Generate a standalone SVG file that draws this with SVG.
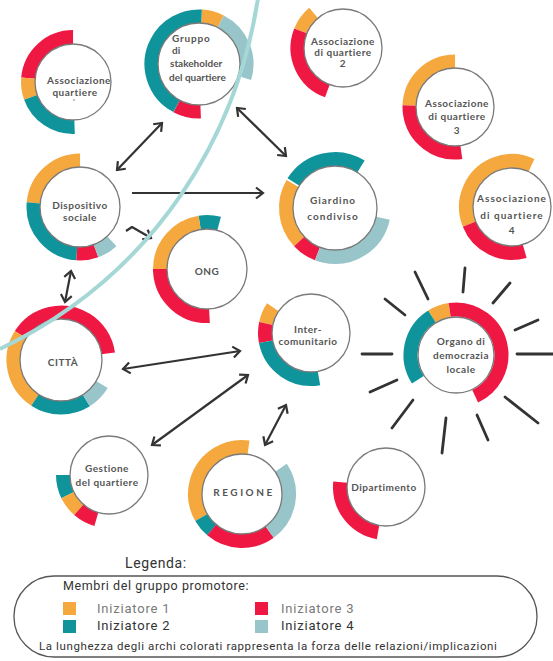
<svg xmlns="http://www.w3.org/2000/svg" width="553" height="661" viewBox="0 0 553 661">
  <style>
    .arc { fill: none; stroke-width: 14; }
    .o { stroke: #F5A83E; }
    .t { stroke: #0F949C; }
    .r { stroke: #EF1843; }
    .b { stroke: #97C5C9; }
    .hub { fill: #ffffff; stroke: #7a7a7a; stroke-width: 1.3; }
    .lbl { font-family: Lato, "Noto Sans", sans-serif; font-weight: bold; font-size: 10px; fill: #555555; text-anchor: middle; letter-spacing: 0.5px; }
    .lbl-l { text-anchor: start; letter-spacing: 0px; }
    .ray { stroke: #333333; stroke-width: 2.8; stroke-linecap: round; }
    .link { fill: none; stroke: #333333; stroke-width: 2.2; }
    .leg { font-family: Roboto, "Liberation Sans", sans-serif; fill: #333333; }
  </style>
  <defs>
    <marker id="head" viewBox="-10 -7 12 14" markerWidth="12" markerHeight="14" refX="0" refY="0" markerUnits="userSpaceOnUse" orient="auto-start-reverse">
      <path d="M-7,-5.5 L0,0 L-7,5.5" fill="none" stroke="#333333" stroke-width="2.2"/>
    </marker>
  </defs>

  <rect width="553" height="661" fill="#ffffff"/>

  <!-- nodes: coloured arcs (pathLength 360 = degrees), then the white hub with its label -->
  <g id="associazione-quartiere">
    <circle class="arc r" cx="73" cy="82" r="45" pathLength="360" stroke-dasharray="85 360" transform="rotate(185 73 82)"/>
    <circle class="arc o" cx="73" cy="82" r="45" pathLength="360" stroke-dasharray="25 360" transform="rotate(160 73 82)"/>
    <circle class="arc t" cx="73" cy="82" r="45" pathLength="360" stroke-dasharray="72 360" transform="rotate(88 73 82)"/>
    <circle class="hub" cx="73" cy="82" r="38"/>
    <text class="lbl" x="79" y="84">Associazione</text>
    <text class="lbl" x="75" y="96">quartiere</text>
    <circle cx="74" cy="100" r="0.8" fill="#777777"/>
  </g>

  <g id="gruppo-stakeholder">
    <circle class="arc o" cx="199" cy="64" r="47.5" pathLength="360" stroke-dasharray="24 360" transform="rotate(-87 199 64)"/>
    <circle class="arc b" cx="199" cy="64" r="47.5" pathLength="360" stroke-dasharray="80 360" transform="rotate(-63 199 64)"/>
    <circle class="arc r" cx="199" cy="64" r="47.5" pathLength="360" stroke-dasharray="30 360" transform="rotate(88 199 64)"/>
    <circle class="arc t" cx="199" cy="64" r="47.5" pathLength="360" stroke-dasharray="155 360" transform="rotate(118 199 64)"/>
    <circle class="hub" cx="199" cy="64" r="41"/>
    <text class="lbl lbl-l" x="172" y="42" style="letter-spacing:0.8px">Gruppo</text>
    <text class="lbl lbl-l" x="172" y="54">di</text>
    <text class="lbl lbl-l" x="170" y="67">stakeholder</text>
    <text class="lbl lbl-l" x="169" y="81">del quartiere</text>
  </g>

  <g id="dispositivo-sociale">
    <circle class="arc o" cx="80" cy="207" r="46.5" pathLength="360" stroke-dasharray="85 360" transform="rotate(185 80 207)"/>
    <circle class="arc t" cx="80" cy="207" r="46.5" pathLength="360" stroke-dasharray="91 360" transform="rotate(94 80 207)"/>
    <circle class="arc r" cx="80" cy="207" r="46.5" pathLength="360" stroke-dasharray="24 360" transform="rotate(70 80 207)"/>
    <circle class="arc b" cx="80" cy="207" r="46.5" pathLength="360" stroke-dasharray="23 360" transform="rotate(47 80 207)"/>
    <circle class="hub" cx="80" cy="207" r="40"/>
    <text class="lbl" x="80" y="209">Dispositivo</text>
    <text class="lbl" x="80" y="221">sociale</text>
  </g>

  <g id="ong">
    <circle class="arc t" cx="207" cy="269" r="47" pathLength="360" stroke-dasharray="24 360" transform="rotate(261 207 269)"/>
    <circle class="arc o" cx="207" cy="269" r="47" pathLength="360" stroke-dasharray="81 360" transform="rotate(180 207 269)"/>
    <circle class="arc r" cx="207" cy="269" r="47" pathLength="360" stroke-dasharray="93 360" transform="rotate(87 207 269)"/>
    <circle class="hub" cx="207" cy="269" r="40"/>
    <text class="lbl" x="207" y="275">ONG</text>
  </g>

  <g id="citta">
    <circle class="arc r" cx="61" cy="360" r="47.5" pathLength="360" stroke-dasharray="140 360" transform="rotate(212 61 360)"/>
    <circle class="arc o" cx="61" cy="360" r="47.5" pathLength="360" stroke-dasharray="89 360" transform="rotate(123 61 360)"/>
    <circle class="arc t" cx="61" cy="360" r="47.5" pathLength="360" stroke-dasharray="65 360" transform="rotate(58 61 360)"/>
    <circle class="arc b" cx="61" cy="360" r="47.5" pathLength="360" stroke-dasharray="27 360" transform="rotate(31 61 360)"/>
    <circle class="hub" cx="61" cy="360" r="41"/>
    <text class="lbl" x="63" y="366">CITTÀ</text>
  </g>

  <g id="associazione-2">
    <circle class="arc o" cx="343" cy="48" r="45.5" pathLength="360" stroke-dasharray="28 360" transform="rotate(202 343 48)"/>
    <circle class="arc r" cx="343" cy="48" r="45.5" pathLength="360" stroke-dasharray="92 360" transform="rotate(110 343 48)"/>
    <circle class="hub" cx="343" cy="48" r="39"/>
    <text class="lbl" x="343" y="45">Associazione</text>
    <text class="lbl" x="343" y="56">di quartiere</text>
    <text class="lbl" x="343" y="67">2</text>
  </g>

  <g id="associazione-3">
    <circle class="arc o" cx="455" cy="107" r="45.5" pathLength="360" stroke-dasharray="88 360" transform="rotate(182 455 107)"/>
    <circle class="arc r" cx="455" cy="107" r="45.5" pathLength="360" stroke-dasharray="100 360" transform="rotate(82 455 107)"/>
    <circle class="hub" cx="455" cy="107" r="39"/>
    <text class="lbl" x="457" y="107">Associazione</text>
    <text class="lbl" x="457" y="120">di quartiere</text>
    <text class="lbl" x="457" y="134">3</text>
  </g>

  <g id="associazione-4">
    <circle class="arc o" cx="512" cy="207" r="46" pathLength="360" stroke-dasharray="137 360" transform="rotate(158 512 207)"/>
    <circle class="arc r" cx="512" cy="207" r="46" pathLength="360" stroke-dasharray="84 360" transform="rotate(74 512 207)"/>
    <circle class="hub" cx="512" cy="207" r="39"/>
    <text class="lbl" x="512" y="202" style="letter-spacing:1px">Associazione</text>
    <text class="lbl" x="512" y="219" style="letter-spacing:1px">di quartiere</text>
    <text class="lbl" x="512" y="234">4</text>
  </g>

  <g id="giardino-condiviso">
    <circle class="arc t" cx="335" cy="208" r="49" pathLength="360" stroke-dasharray="90 360" transform="rotate(212 335 208)"/>
    <circle class="arc o" cx="335" cy="208" r="49" pathLength="360" stroke-dasharray="73 360" transform="rotate(137 335 208)"/>
    <circle class="arc r" cx="335" cy="208" r="49" pathLength="360" stroke-dasharray="26 360" transform="rotate(111 335 208)"/>
    <circle class="arc b" cx="335" cy="208" r="49" pathLength="360" stroke-dasharray="99 360" transform="rotate(12 335 208)"/>
    <circle class="hub" cx="335" cy="208" r="42"/>
    <text class="lbl" x="333" y="204" style="letter-spacing:1px">Giardino</text>
    <text class="lbl" x="333" y="220" style="letter-spacing:1px">condiviso</text>
  </g>

  <g id="inter-comunitario">
    <circle class="arc o" cx="311" cy="333" r="46" pathLength="360" stroke-dasharray="22 360" transform="rotate(192 311 333)"/>
    <circle class="arc r" cx="311" cy="333" r="46" pathLength="360" stroke-dasharray="23 360" transform="rotate(169 311 333)"/>
    <circle class="arc t" cx="311" cy="333" r="46" pathLength="360" stroke-dasharray="89 360" transform="rotate(80 311 333)"/>
    <circle class="hub" cx="311" cy="333" r="39"/>
    <text class="lbl" x="308" y="333">Inter-</text>
    <text class="lbl" x="308" y="345">comunitario</text>
  </g>

  <g id="organo-democrazia">
    <g class="rays">
      <line class="ray" x1="415" y1="272" x2="428" y2="299"/>
      <line class="ray" x1="465" y1="268" x2="463" y2="292"/>
      <line class="ray" x1="510" y1="283" x2="493" y2="303"/>
      <line class="ray" x1="538" y1="320" x2="515" y2="330"/>
      <line class="ray" x1="517" y1="354" x2="553" y2="354"/>
      <line class="ray" x1="505" y1="397" x2="538" y2="423"/>
      <line class="ray" x1="477" y1="415" x2="488" y2="440"/>
      <line class="ray" x1="446" y1="418" x2="442" y2="453"/>
      <line class="ray" x1="413" y1="400" x2="392" y2="428"/>
      <line class="ray" x1="397" y1="380" x2="370" y2="392"/>
      <line class="ray" x1="362" y1="354" x2="392" y2="354"/>
      <line class="ray" x1="385" y1="299" x2="405" y2="315"/>
    </g>
    <circle class="arc o" cx="456" cy="355" r="45.5" stroke-width="15" pathLength="360" stroke-dasharray="24 360" transform="rotate(238 456 355)"/>
    <circle class="arc r" cx="456" cy="355" r="45.5" stroke-width="15" pathLength="360" stroke-dasharray="163 360" transform="rotate(262 456 355)"/>
    <circle class="arc t" cx="456" cy="355" r="45.5" stroke-width="15" pathLength="360" stroke-dasharray="91 360" transform="rotate(147 456 355)"/>
    <circle class="hub" cx="456" cy="355" r="38"/>
    <text class="lbl" x="461" y="345">Organo di</text>
    <text class="lbl" x="461" y="359">democrazia</text>
    <text class="lbl" x="461" y="373">locale</text>
  </g>

  <g id="gestione-quartiere">
    <circle class="arc t" cx="109" cy="475" r="46" pathLength="360" stroke-dasharray="26 360" transform="rotate(154 109 475)"/>
    <circle class="arc o" cx="109" cy="475" r="46" pathLength="360" stroke-dasharray="23 360" transform="rotate(131 109 475)"/>
    <circle class="arc r" cx="109" cy="475" r="46" pathLength="360" stroke-dasharray="25 360" transform="rotate(106 109 475)"/>
    <circle class="hub" cx="109" cy="475" r="39"/>
    <text class="lbl" x="107" y="472">Gestione</text>
    <text class="lbl" x="107" y="486">del quartiere</text>
  </g>

  <g id="regione">
    <circle class="arc o" cx="242" cy="494" r="47" pathLength="360" stroke-dasharray="128 360" transform="rotate(150 242 494)"/>
    <circle class="arc t" cx="242" cy="494" r="47" pathLength="360" stroke-dasharray="20 360" transform="rotate(130 242 494)"/>
    <circle class="arc r" cx="242" cy="494" r="47" pathLength="360" stroke-dasharray="76 360" transform="rotate(54 242 494)"/>
    <circle class="arc b" cx="242" cy="494" r="47" pathLength="360" stroke-dasharray="88 360" transform="rotate(-34 242 494)"/>
    <circle class="hub" cx="242" cy="494" r="40"/>
    <text class="lbl" x="244" y="496" style="letter-spacing:2.5px">REGIONE</text>
  </g>

  <g id="dipartimento">
    <circle class="arc r" cx="386" cy="487" r="46" pathLength="360" stroke-dasharray="86 360" transform="rotate(100 386 487)"/>
    <circle class="hub" cx="386" cy="487" r="39"/>
    <text class="lbl" x="384" y="491">Dipartimento</text>
  </g>

  <!-- connectors -->
  <g id="connectors">
    <line class="link" x1="162" y1="123" x2="117" y2="170" marker-start="url(#head)" marker-end="url(#head)"/>
    <line class="link" x1="237" y1="108" x2="286" y2="156" marker-start="url(#head)" marker-end="url(#head)"/>
    <line class="link" x1="132" y1="193" x2="263" y2="193" marker-end="url(#head)"/>
    <path class="link" d="M126,231 L132,227 L151,238" stroke-linejoin="round" marker-end="url(#head)"/>
    <line class="link" x1="71" y1="271" x2="65" y2="302" marker-start="url(#head)" marker-end="url(#head)"/>
    <line class="link" x1="123" y1="369" x2="240" y2="351" marker-start="url(#head)" marker-end="url(#head)"/>
    <line class="link" x1="152" y1="445" x2="248" y2="375" marker-start="url(#head)" marker-end="url(#head)"/>
    <line class="link" x1="286" y1="405" x2="265" y2="445" marker-start="url(#head)" marker-end="url(#head)"/>
  </g>

  <!-- boundary curve -->
  <path d="M258,-2 C238,130 160,272 0,349" fill="none" stroke="#A5D7D6" stroke-width="4"/>

  <!-- legend -->
  <g id="legenda">
    <text class="leg" x="125" y="568" font-size="14" style="letter-spacing:0.6px">Legenda:</text>
    <rect x="14" y="576" width="523" height="81" rx="40" ry="40" fill="none" stroke="#555555" stroke-width="1.3"/>
    <text class="leg" x="63" y="590" font-size="12.5" style="letter-spacing:0.6px">Membri del gruppo promotore:</text>
    <rect x="63" y="602" width="13" height="13" fill="#F5A83E"/>
    <rect x="63" y="620" width="13" height="13" fill="#0F949C"/>
    <rect x="255" y="602" width="13" height="13" fill="#EF1843"/>
    <rect x="255" y="620" width="13" height="13" fill="#97C5C9"/>
    <text class="leg" x="97" y="613" font-size="13" style="letter-spacing:0.8px;fill:#7a7a7a">Iniziatore 1</text>
    <text class="leg" x="97" y="630" font-size="13" style="letter-spacing:0.8px">Iniziatore 2</text>
    <text class="leg" x="281" y="613" font-size="13" style="letter-spacing:0.8px;fill:#7a7a7a">Iniziatore 3</text>
    <text class="leg" x="281" y="630" font-size="13" style="letter-spacing:0.8px">Iniziatore 4</text>
    <text class="leg" x="39" y="650" font-size="11.5" style="letter-spacing:0.6px">La lunghezza degli archi colorati rappresenta la forza delle relazioni/implicazioni</text>
  </g>
</svg>
